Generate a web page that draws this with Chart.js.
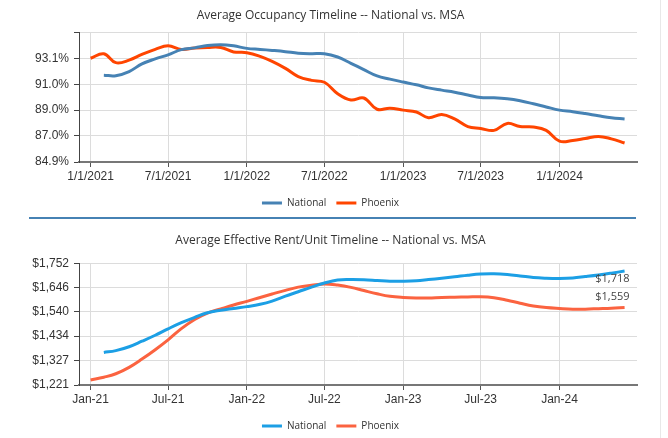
<!DOCTYPE html>
<html>
<head>
<meta charset="utf-8">
<script src="https://cdn.jsdelivr.net/npm/chart.js@4.4.0/dist/chart.umd.min.js"></script>
<style>
body { margin: 0; background: #fff; width: 668px; height: 438px; overflow: hidden; position: relative; }
.box { position: absolute; left: 0; width: 668px; }
#sep { position: absolute; left: 29px; width: 607px; top: 217px; height: 2px; background: #4682b4; }
#edge { position: absolute; left: 660px; top: 0; width: 1px; height: 438px; background: #e8e8e8; }
</style>
</head>
<body>
<div class="box" style="top:0;height:218px"><canvas id="occChart"></canvas></div>
<div id="sep"></div>
<div class="box" style="top:222px;height:219px"><canvas id="rentChart"></canvas></div>
<div id="edge"></div>
<script>
// monthly observations, first of month
const months = [
    '2021-01-01','2021-02-01','2021-03-01','2021-04-01','2021-05-01','2021-06-01',
    '2021-07-01','2021-08-01','2021-09-01','2021-10-01','2021-11-01','2021-12-01',
    '2022-01-01','2022-02-01','2022-03-01','2022-04-01','2022-05-01','2022-06-01',
    '2022-07-01','2022-08-01','2022-09-01','2022-10-01','2022-11-01','2022-12-01',
    '2023-01-01','2023-02-01','2023-03-01','2023-04-01','2023-05-01','2023-06-01',
    '2023-07-01','2023-08-01','2023-09-01','2023-10-01','2023-11-01','2023-12-01',
    '2024-01-01','2024-02-01','2024-03-01','2024-04-01','2024-05-01','2024-06-01'
];
const tickDates = ['2021-01-01','2021-07-01','2022-01-01','2022-07-01','2023-01-01','2023-07-01','2024-01-01'];
const occTickLabels = ['1/1/2021','7/1/2021','1/1/2022','7/1/2022','1/1/2023','7/1/2023','1/1/2024'];
const rentTickLabels = ['Jan-21','Jul-21','Jan-22','Jul-22','Jan-23','Jul-23','Jan-24'];

const occNational = [null, 91.76, 91.72, 92.05, 92.65, 93.05, 93.37, 93.78, 93.92, 94.1, 94.17, 94.08,
    93.88, 93.8, 93.72, 93.62, 93.5, 93.46, 93.46, 93.2, 92.7, 92.2, 91.7, 91.45,
    91.22, 91.0, 90.76, 90.58, 90.42, 90.2, 90.0, 89.98, 89.9, 89.74, 89.5, 89.25,
    89.0, 88.88, 88.73, 88.55, 88.39, 88.3];
const occPhoenix = [93.1, 93.45, 92.75, 92.95, 93.4, 93.8, 94.08, 93.8, 93.9, 93.95, 93.95, 93.6,
    93.54, 93.25, 92.85, 92.3, 91.65, 91.35, 91.2, 90.3, 89.8, 89.96, 89.07, 89.15,
    89.0, 88.85, 88.4, 88.65, 88.3, 87.7, 87.55, 87.4, 87.95, 87.7, 87.67, 87.4,
    86.55, 86.6, 86.75, 86.92, 86.73, 86.4];
const occTicks = [84.9, 87.0, 89.0, 91.0, 93.1];
const occMax = 95.15;

const rentNational = [null, 1363, 1371, 1388, 1412, 1438, 1466, 1493, 1516, 1536, 1547, 1555,
    1563, 1573, 1587, 1609, 1628, 1648, 1666, 1679, 1681, 1680, 1677, 1674,
    1674, 1676, 1681, 1687, 1693, 1700, 1705, 1706, 1703, 1697, 1690, 1687,
    1686, 1688, 1694, 1701, 1709, 1718];
const rentPhoenix = [1243, 1255, 1270, 1298, 1334, 1375, 1418, 1467, 1507, 1535, 1553, 1570,
    1586, 1603, 1618, 1634, 1648, 1656, 1662, 1657, 1647, 1633, 1619, 1608,
    1603, 1601, 1601, 1603, 1604, 1605, 1606, 1602, 1591, 1578, 1566, 1559,
    1555, 1552, 1552, 1554, 1556, 1559];
const rentTicks = [1221, 1327, 1434, 1540, 1646, 1752];

const dayOf = d => (Date.parse(d) - Date.parse('2021-01-01')) / 86400000;
const toPoints = arr => months.map((m, i) => ({ x: dayOf(m), y: arr[i] }));

const tickFont = { family: '"Liberation Sans", Arial, sans-serif', size: 12 };
const titleFont = { family: '"Open Sans"', size: 12, weight: 'normal' };

function xScale(labels) {
    return {
        type: 'linear',
        min: -27,
        max: 1276,
        afterBuildTicks: s => { s.ticks = tickDates.map(d => ({ value: dayOf(d) })); },
        afterFit: s => { s.height = 26; },
        ticks: {
            autoSkip: false,
            maxRotation: 0,
            padding: 2,
            color: '#333',
            font: tickFont,
            callback: (v, i) => labels[i]
        },
        grid: { color: '#dcdcdc', tickColor: '#555', tickLength: 5 },
        border: { color: '#777', width: 2 }
    };
}

function yScale(min, max, values, fmt) {
    return {
        min: min,
        max: max,
        afterBuildTicks: s => {
            const t = values.map(v => ({ value: v }));
            if (max > values[values.length - 1]) t.push({ value: max });
            s.ticks = t;
        },
        afterFit: s => { s.width = 55; },
        ticks: {
            autoSkip: false,
            padding: 5,
            color: '#333',
            font: tickFont,
            callback: v => values.includes(v) ? fmt(v) : ''
        },
        grid: { color: '#dcdcdc', tickColor: '#444', tickLength: 5 },
        border: { color: '#444', width: 1 }
    };
}

function legendOpts() {
    return {
        position: 'bottom',
        labels: {
            usePointStyle: true,
            pointStyle: 'line',
            pointStyleWidth: 20,
            boxHeight: 10,
            padding: 10,
            color: '#333',
            font: { family: '"Open Sans"', size: 10 }
        }
    };
}

// end-of-line value tags on the rent chart
const endLabels = {
    id: 'endLabels',
    afterDatasetsDraw(chart) {
        const ctx = chart.ctx;
        ctx.save();
        ctx.font = '11px "Open Sans"';
        ctx.fillStyle = '#444';
        ctx.textAlign = 'right';
        ctx.textBaseline = 'middle';
        chart.data.datasets.forEach((ds, i) => {
            const meta = chart.getDatasetMeta(i);
            const pt = meta.data[meta.data.length - 1];
            const v = ds.data[ds.data.length - 1].y;
            const dy = i === 0 ? 8 : -11;
            ctx.fillText('$' + v.toLocaleString('en-US'), pt.x + 5, pt.y + dy);
        });
        ctx.restore();
    }
};

new Chart(document.getElementById('occChart'), {
    type: 'line',
    data: {
        datasets: [
            { label: 'National', data: toPoints(occNational), borderColor: '#4682b4', backgroundColor: '#4682b4',
              borderWidth: 3, pointRadius: 0, tension: 0.4 },
            { label: 'Phoenix', data: toPoints(occPhoenix), borderColor: '#ff4500', backgroundColor: '#ff4500',
              borderWidth: 3, pointRadius: 0, tension: 0.4 }
        ]
    },
    options: {
        responsive: true,
        maintainAspectRatio: false,
        animation: false,
        layout: { padding: { left: 24, right: 31, top: 0, bottom: 0 } },
        scales: {
            x: xScale(occTickLabels),
            y: yScale(84.9, occMax, occTicks, v => v.toFixed(1) + '%')
        },
        plugins: {
            title: {
                display: true,
                text: 'Average Occupancy Timeline -- National vs. MSA',
                color: '#333',
                font: titleFont,
                padding: { top: 8.5, bottom: 9.4 }
            },
            legend: legendOpts(),
            tooltip: { enabled: false }
        }
    }
});

new Chart(document.getElementById('rentChart'), {
    type: 'line',
    data: {
        datasets: [
            { label: 'National', data: toPoints(rentNational), borderColor: '#1c9fe5', backgroundColor: '#1c9fe5',
              borderWidth: 3, pointRadius: 0, tension: 0.4 },
            { label: 'Phoenix', data: toPoints(rentPhoenix), borderColor: '#fb6340', backgroundColor: '#fb6340',
              borderWidth: 3, pointRadius: 0, tension: 0.4 }
        ]
    },
    options: {
        responsive: true,
        maintainAspectRatio: false,
        animation: false,
        layout: { padding: { left: 24, right: 31, top: 0, bottom: 0 } },
        scales: {
            x: xScale(rentTickLabels),
            y: yScale(1221, 1752, rentTicks, v => '$' + v.toLocaleString('en-US'))
        },
        plugins: {
            title: {
                display: true,
                text: 'Average Effective Rent/Unit Timeline -- National vs. MSA',
                color: '#333',
                font: titleFont,
                padding: { top: 11.5, bottom: 15.4 }
            },
            legend: legendOpts(),
            tooltip: { enabled: false }
        }
    },
    plugins: [endLabels]
});
</script>
</body>
</html>
